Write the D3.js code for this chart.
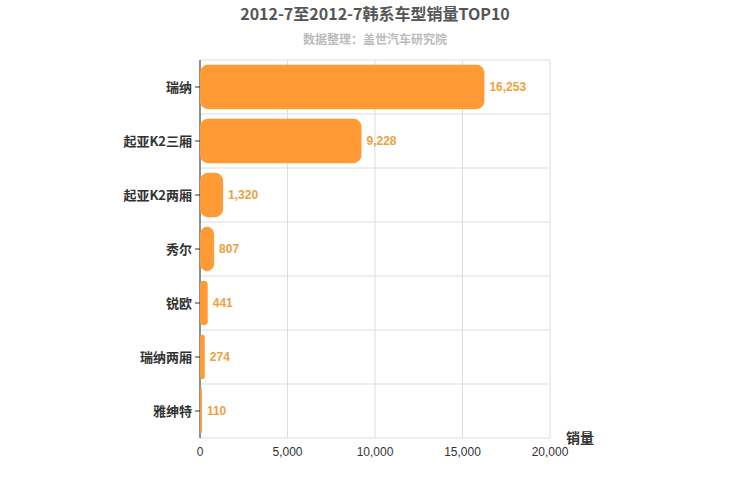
<!DOCTYPE html>
<html><head><meta charset="utf-8">
<script src="https://cdn.jsdelivr.net/npm/d3@7"></script>
<style>body{margin:0;background:#fff;font-family:"Noto Sans CJK SC",sans-serif}</style>
</head><body><svg id="c" width="750" height="500"></svg>
<script>
const categories=["瑞纳","起亚K2三厢","起亚K2两厢","秀尔","锐欧","瑞纳两厢","雅绅特"];
const values=[16253,9228,1320,807,441,274,110];
const xTicks=[0,5000,10000,15000,20000];
const svg=d3.select("#c");
const L=200,R=550,T=60,B=438;
const x=d3.scaleLinear().domain([0,20000]).range([L,R]);
const y=d3.scaleBand().domain(categories).range([T,B]).paddingInner(0.18).paddingOuter(0.09);
const step=(B-T)/categories.length;
svg.append("text").attr("x",375).attr("y",20).attr("text-anchor","middle").attr("font-size",16).attr("font-weight","bold").attr("fill","#555").text("2012-7至2012-7韩系车型销量TOP10");
svg.append("text").attr("x",375).attr("y",44).attr("text-anchor","middle").attr("font-size",12).attr("font-weight","bold").attr("fill","#bbb").text("数据整理：盖世汽车研究院");
const g=svg.append("g");
xTicks.forEach(t=>g.append("line").attr("x1",x(t)).attr("x2",x(t)).attr("y1",T).attr("y2",B).attr("stroke","#ddd"));
for(let i=0;i<=categories.length;i++)g.append("line").attr("x1",L).attr("x2",R).attr("y1",T+i*step).attr("y2",T+i*step).attr("stroke","#ddd");
g.append("line").attr("x1",L).attr("x2",L).attr("y1",T).attr("y2",B).attr("stroke","#333");
categories.forEach((c,i)=>g.append("line").attr("x1",L-5).attr("x2",L).attr("y1",T+i*step+step/2).attr("y2",T+i*step+step/2).attr("stroke","#333"));
g.selectAll("rect.b").data(values).join("rect").attr("x",L).attr("y",(d,i)=>y(categories[i])).attr("width",d=>x(d)-L).attr("height",y.bandwidth()).attr("rx",d=>Math.min(8,(x(d)-L)/2)).attr("fill","#FF9A35");
g.selectAll("text.v").data(values).join("text").attr("x",d=>x(d)+5).attr("y",(d,i)=>y(categories[i])+y.bandwidth()/2+4).attr("font-size",12).attr("font-weight","bold").attr("fill","#F0A040").attr("font-family","Arial,Liberation Sans").text(d=>d3.format(",")(d));
g.selectAll("text.c").data(categories).join("text").attr("x",L-8).attr("y",(d,i)=>T+i*step+step/2+5).attr("text-anchor","end").attr("font-size",13).attr("font-weight","bold").attr("fill","#333").text(d=>d);
xTicks.forEach(t=>g.append("text").attr("x",x(t)).attr("y",B+18).attr("text-anchor","middle").attr("font-size",12).attr("fill","#333").attr("font-family","Arial,Liberation Sans").text(d3.format(",")(t)));
svg.append("text").attr("x",580).attr("y",443).attr("text-anchor","middle").attr("font-size",14).attr("font-weight","bold").attr("fill","#333").text("销量");
</script></body></html>
